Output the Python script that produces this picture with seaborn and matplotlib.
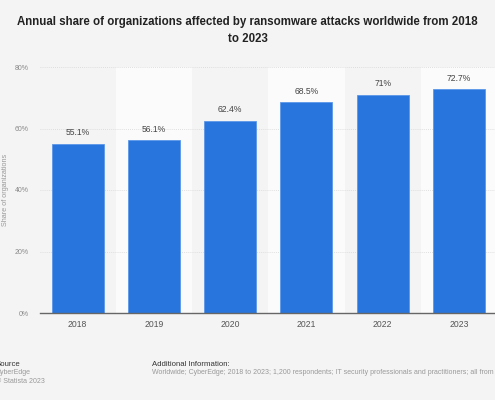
import matplotlib
matplotlib.use("Agg")
import matplotlib.pyplot as plt
import seaborn as sns
import pandas as pd

years = ["2018", "2019", "2020", "2021", "2022", "2023"]
shares = [55.1, 56.1, 62.4, 68.5, 71.0, 72.7]
value_labels = ["55.1%", "56.1%", "62.4%", "68.5%", "71%", "72.7%"]
y_ticks = [0, 20, 40, 60, 80]
y_tick_labels = ["0%", "20%", "40%", "60%", "80%"]

title = "Annual share of organizations affected by ransomware attacks worldwide from 2018\nto 2023"
y_label = "Share of organizations"
source_lines = ["Source", "CyberEdge", "© Statista 2023"]
add_title = "Additional Information:"
add_text = ("Worldwide; CyberEdge; 2018 to 2023; 1,200 respondents; IT security professionals "
            "and practitioners; all from organizations with 500 or more employees")

df = pd.DataFrame({"year": years, "share": shares})

sns.set_theme(style="white")
plt.rcParams["font.family"] = ["Liberation Sans", "DejaVu Sans"]

BG = "#f4f4f4"
fig = plt.figure(figsize=(4.95, 4.0), dpi=100, facecolor=BG)
W, H = 495, 400
ax = fig.add_axes([39.5 / W, 1 - 313 / H, (497 - 39.5) / W, (313 - 67) / H])
ax.set_facecolor(BG)

# alternating bands
for i in range(len(years)):
    if i % 2 == 1:
        ax.axvspan(i - 0.5, i + 0.5, color="#fbfbfb", zorder=0, lw=0)

sns.barplot(data=df, x="year", y="share", color="#2876dd", saturation=1,
            width=0.68, ax=ax, zorder=3, edgecolor="#5b97e8", linewidth=0.6)

for i, (v, lab) in enumerate(zip(shares, value_labels)):
    ax.text(i, v + 2.2, lab, ha="center", va="bottom", fontsize=6.2, color="#444444", zorder=4)

ax.set_ylim(0, 80)
ax.set_xlim(-0.5, 5.5)
ax.set_yticks(y_ticks)
ax.set_yticklabels(y_tick_labels)
ax.yaxis.grid(True, linestyle=(0, (1, 1.5)), color="#d6d6d6", linewidth=0.6, zorder=1)
ax.set_axisbelow(True)
ax.tick_params(axis="y", labelsize=5, colors="#8a8a8a", length=0, pad=8)
ax.tick_params(axis="x", labelsize=6.2, colors="#555555", length=0, pad=5)
ax.set_xlabel("")
ax.set_ylabel(y_label, fontsize=5.2, color="#999999", va="center")
ax.yaxis.set_label_coords((5.5 - 39.5) / (497 - 39.5), 0.5)
for s in ["top", "right", "left"]:
    ax.spines[s].set_visible(False)
ax.spines["bottom"].set_color("#666666")
ax.spines["bottom"].set_linewidth(1.0)
ax.spines["bottom"].set_zorder(5)

fig.text(0.5, 1 - 16 / H, title, ha="center", va="top", fontsize=8.3,
         fontweight="bold", color="#222222", linespacing=1.6)

fig.text(-4 / W, 1 - 364 / H, source_lines[0], ha="left", va="center",
         fontsize=5.6, color="#333333")
fig.text(-4 / W, 1 - 373 / H, source_lines[1], ha="left", va="center",
         fontsize=5, color="#999999")
fig.text(-4 / W, 1 - 381.5 / H, source_lines[2], ha="left", va="center",
         fontsize=5, color="#999999")
fig.text(152 / W, 1 - 364 / H, add_title, ha="left", va="center",
         fontsize=5.6, color="#333333")
fig.text(152 / W, 1 - 373 / H, add_text, ha="left", va="center",
         fontsize=5, color="#999999")

fig.savefig("out.png", dpi=100, facecolor=BG)
